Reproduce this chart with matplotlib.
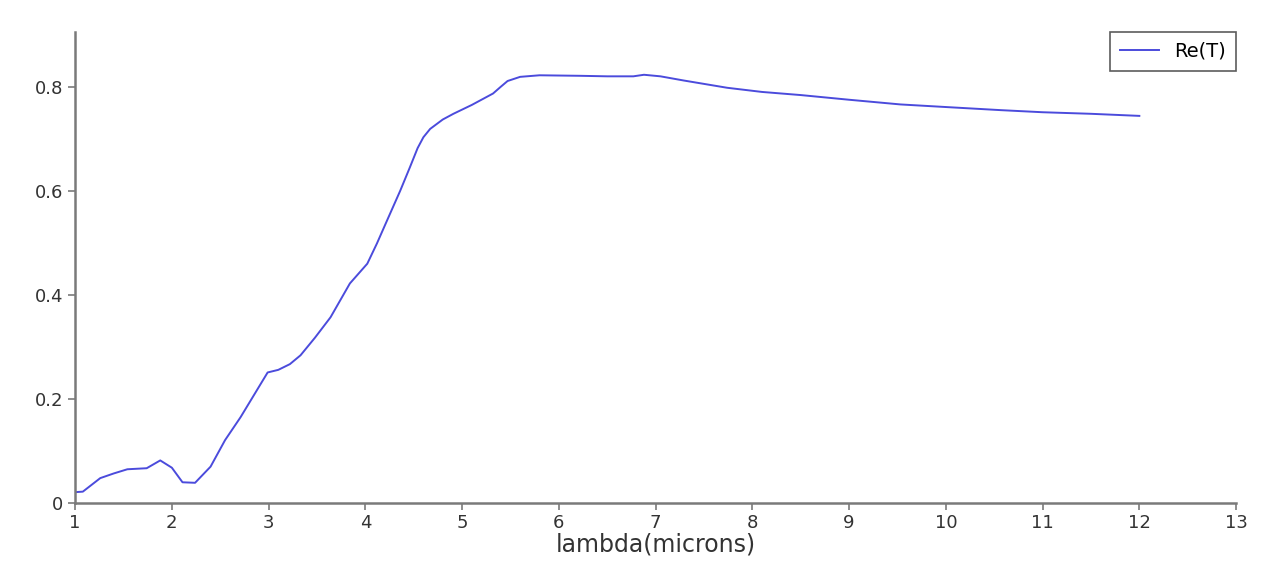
import numpy as np
import matplotlib.pyplot as plt

# transmission spectrum, real part
lam = [1.0, 1.08, 1.26, 1.40, 1.54, 1.74, 1.88, 2.0, 2.11, 2.24, 2.40, 2.55, 2.71,
       2.85, 2.99, 3.10, 3.22, 3.33, 3.48, 3.64, 3.84, 4.02, 4.12, 4.21, 4.36,
       4.46, 4.54, 4.60, 4.67, 4.80, 4.91, 5.10, 5.32, 5.40, 5.47, 5.60, 5.80,
       6.22, 6.50, 6.77, 6.88, 7.05, 7.29, 7.74, 8.10, 8.50, 9.00, 9.53, 10.0,
       10.57, 11.0, 11.5, 12.0]
re_t = [0.021, 0.022, 0.048, 0.057, 0.065, 0.067, 0.082, 0.068, 0.040, 0.039,
        0.070, 0.121, 0.165, 0.208, 0.251, 0.256, 0.267, 0.284, 0.318, 0.357,
        0.422, 0.460, 0.499, 0.537, 0.600, 0.645, 0.682, 0.703, 0.719, 0.737,
        0.748, 0.765, 0.787, 0.800, 0.811, 0.819, 0.822, 0.821, 0.820, 0.820,
        0.823, 0.820, 0.812, 0.798, 0.790, 0.784, 0.775, 0.766, 0.761, 0.755,
        0.751, 0.748, 0.744]

xticks = np.arange(1, 14)
yticks = [0, 0.2, 0.4, 0.6, 0.8]
ytick_labels = ['0', '0.2', '0.4', '0.6', '0.8']

axis_col = '#7a7a7a'

fig = plt.figure(figsize=(12.73, 5.73), dpi=100)
ax = fig.add_axes([0.059, 0.122, 0.912, 0.822])
ax.plot(lam, re_t, color='#4b4bdc', lw=1.4, label='Re(T)')

ax.set_xlim(1, 13)
ax.set_ylim(0, 0.905)
ax.set_xticks(xticks)
ax.set_xticklabels([str(t) for t in xticks])
ax.set_yticks(yticks)
ax.set_yticklabels(ytick_labels)

for side in ['top', 'right']:
    ax.spines[side].set_visible(False)
for side in ['left', 'bottom']:
    ax.spines[side].set_color(axis_col)
    ax.spines[side].set_linewidth(1.8)
ax.tick_params(axis='both', colors=axis_col, length=5, width=1.2,
               labelsize=13, labelcolor='#333333')
ax.tick_params(axis='x', pad=3)

ax.set_xlabel('lambda(microns)', fontsize=17, color='#333333', labelpad=0)

leg = ax.legend(loc='upper right', fontsize=14, frameon=True, fancybox=False,
                handlelength=2.0, borderpad=0.5, borderaxespad=0,
                bbox_to_anchor=(1.0, 1.0))
leg.get_frame().set_edgecolor('#333333')
leg.get_frame().set_linewidth(1.2)

fig.savefig('out.png', dpi=100, facecolor='white')
